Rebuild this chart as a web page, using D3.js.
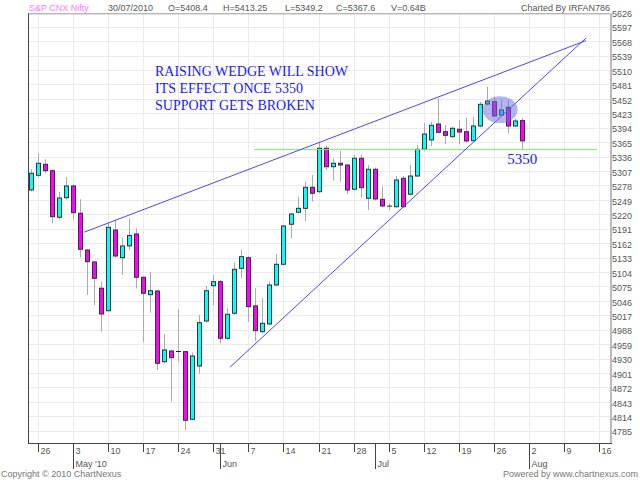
<!DOCTYPE html>
<html>
<head>
<meta charset="utf-8">
<script src="https://cdn.jsdelivr.net/npm/d3@7"></script>
<style>
  body { margin: 0; background: #fff; }
  svg text { font-family: "Liberation Sans", Arial, sans-serif; }
</style>
</head>
<body>
<div id="chart"></div>
<script>
// trading days, 23 Apr 2010 .. 30 Jul 2010
let dates = ["23 Apr","26 Apr","27 Apr","28 Apr","29 Apr","30 Apr",
  "3 May","4 May","5 May","6 May","7 May","10 May","11 May","12 May","13 May","14 May",
  "17 May","18 May","19 May","20 May","21 May","24 May","25 May","26 May","27 May","28 May",
  "31 May","1 Jun","2 Jun","3 Jun","4 Jun","7 Jun","8 Jun","9 Jun","10 Jun","11 Jun",
  "14 Jun","15 Jun","16 Jun","17 Jun","18 Jun","21 Jun","22 Jun","23 Jun","24 Jun","25 Jun",
  "28 Jun","29 Jun","30 Jun","1 Jul","2 Jul","5 Jul","6 Jul","7 Jul","8 Jul","9 Jul",
  "12 Jul","13 Jul","14 Jul","15 Jul","16 Jul","19 Jul","20 Jul","21 Jul","22 Jul","23 Jul",
  "26 Jul","27 Jul","28 Jul","29 Jul","30 Jul"];

let open = [5269,5298.4,5320.5,5307.7,5214,5253.4,
  5277,5222.1,5148.3,5124.2,5071.4,5026.3,5188.5,5132.8,5156.5,5180.5,
  5093.5,5058.5,5065.9,4923.8,4945.3,4944.3,4944,4808.1,4915.2,5005.6,
  5076.6,5084.6,4970.9,5021.1,5111.5,5132.8,5036,4984.1,4999.6,5078,
  5119.6,5200,5224.1,5232,5274.3,5265.5,5352.7,5315.7,5322.6,5319.1,
  5270.3,5332.6,5252.2,5310.5,5250.2,5236.5,5235.3,5292.4,5260.3,5297,
  5350.7,5369.4,5401.5,5386.1,5376,5390.9,5386.1,5368,5397.5,5441.7,
  5446.3,5419.6,5435.1,5397.5,5408.4];

let high = [5310.5,5342.6,5330.6,5310,5264.9,5294.4,
  5280,5250.2,5150,5126,5084.6,5203.2,5208.6,5173,5212,5191.9,
  5095,5104.7,5068,4979.5,4948,5029.1,4946,4941.9,5017.7,5076,
  5098.1,5088,5031.2,5122.8,5148.3,5136,5071.4,5051.3,5084.6,5139.7,
  5198.6,5223,5255.4,5285.6,5299,5366,5358,5332.6,5347.3,5321,
  5339.2,5339.2,5319.1,5314,5275.5,5242.2,5297,5297,5319.1,5359.3,
  5402.9,5406.1,5453.2,5399.5,5396,5409.6,5414.2,5416.2,5446.3,5476.5,
  5456.4,5449.8,5449.8,5413,5413.25];

let low = [5266,5295,5302.5,5202,5210,5250,
  5210,5133.6,5057.9,5037.8,4984.1,5025,5133,5098.1,5148.3,5071.4,
  4964,5022.3,4907.2,4920,4843.5,4923.8,4786.6,4806,4899.1,5002,
  5037.8,4960.8,4968,5018,5091.4,5004.2,4966,4982,4997,5076,
  5117,5171.8,5222,5206.6,5245.4,5262,5309.1,5287.6,5285.6,5260.9,
  5268,5254.2,5228.7,5247.4,5234,5228.7,5233,5233,5258,5295,
  5348,5357.3,5382,5361.3,5374,5361.3,5364,5366,5395,5439,
  5415,5417,5382.8,5395,5349.2];

let close = [5302.5,5322.6,5307.7,5215.2,5252.8,5276.9,
  5223.3,5149.7,5124.8,5091.4,5019.7,5193.9,5136.3,5156.4,5177.5,5093.5,
  5061.3,5066.5,4920.6,4947.4,4931.9,4943.8,4806.1,4935.3,5002.2,5066.5,
  5084.6,4970.9,5019.1,5109.5,5134.9,5034.4,4986.1,5001,5078,5119.6,
  5196.5,5220.7,5232.1,5274.3,5262.3,5352.7,5315.7,5322.6,5319.1,5268.9,
  5332.6,5273.5,5310.5,5250.8,5236.7,5235.9,5289,5235.3,5297,5350.7,
  5381.4,5398.9,5384.8,5378.8,5392.9,5385.4,5367.4,5397.5,5441.1,5447.7,
  5417.6,5429.7,5397.5,5407.6,5367.6];

// axis ticks
let yTicks = [5626,5597,5568,5539,5510,5481,5452,5423,5394,5365,5336,5307,5278,5249,5220,
  5191,5162,5133,5104,5075,5046,5017,4988,4959,4930,4901,4872,4843,4814,4785];
let weekIdx = [1,6,11,16,21,26,31,36,41,46,51,56,61,66,71,76,81];
let weekLabels = ["26","3","10","17","24","31","7","14","21","28","5","12","19","26","2","9","16"];
let monthIdx = [6,27,49,71];
let monthLabels = ["May '10","Jun","Jul","Aug"];

// drawn annotations (day index, price)
let wedgeUpper = [[7.6,5184],[79.06,5569]];
let wedgeLower = [[28.4,4913],[79.06,5574]];
let supportLine = [[31.8,5350],[80.7,5350]];
let supportLevel = 5350;
let circleAt = [66.85,5430];
let noteLines = ["RAISING WEDGE WILL SHOW","ITS EFFECT ONCE 5350","SUPPORT GETS BROKEN"];

let width = 640, height = 480;
let plot = {left: 28, right: 610, top: 13.3, bottom: 443};

let svg = d3.select("#chart").append("svg")
  .attr("width", width).attr("height", height);

let x = d3.scaleLinear().domain([-0.385, 82.5]).range([plot.left, plot.right]);
let y = d3.scaleLinear().domain([4760.4, 5624]).range([plot.bottom, plot.top]);

// grid
let grid = svg.append("g");
grid.selectAll("line.h").data(yTicks.filter(d => y(d) > plot.top)).enter().append("line")
  .attr("x1", plot.left).attr("x2", plot.right)
  .attr("y1", d => Math.round(y(d)) + 0.5).attr("y2", d => Math.round(y(d)) + 0.5)
  .attr("stroke", "#ebebeb");
grid.selectAll("line.v").data(weekIdx).enter().append("line")
  .attr("x1", d => Math.round(x(d)) + 0.5).attr("x2", d => Math.round(x(d)) + 0.5)
  .attr("y1", plot.top).attr("y2", plot.bottom)
  .attr("stroke", "#ebebeb");

// frame
svg.append("line").attr("x1", plot.left).attr("x2", plot.right)
  .attr("y1", plot.top + 0.5).attr("y2", plot.top + 0.5).attr("stroke", "#999");
svg.append("line").attr("x1", plot.right + 1).attr("x2", plot.right + 1)
  .attr("y1", plot.top).attr("y2", plot.bottom + 1).attr("stroke", "#bbb").attr("stroke-width", 2);
svg.append("line").attr("x1", plot.left + 0.5).attr("x2", plot.left + 0.5)
  .attr("y1", plot.top).attr("y2", plot.bottom).attr("stroke", "#444");
svg.append("line").attr("x1", plot.left).attr("x2", plot.right + 2)
  .attr("y1", plot.bottom + 0.5).attr("y2", plot.bottom + 0.5).attr("stroke", "#444");

// y labels
svg.append("g").selectAll("text").data(yTicks).enter().append("text")
  .attr("x", plot.right + 2)
  .attr("y", d => y(d) + 1.7)
  .attr("dominant-baseline", "central")
  .attr("font-size", 9).attr("fill", "#555")
  .text(d => d);

// x ticks and labels
let xAxis = svg.append("g");
xAxis.selectAll("line").data(weekIdx).enter().append("line")
  .attr("x1", d => Math.round(x(d)) + 0.5).attr("x2", d => Math.round(x(d)) + 0.5)
  .attr("y1", plot.bottom).attr("y2", plot.bottom + 9)
  .attr("stroke", "#444");
xAxis.selectAll("text").data(weekIdx).enter().append("text")
  .attr("x", d => Math.round(x(d)) + 2.5).attr("y", plot.bottom + 10.5)
  .attr("font-size", 9).attr("fill", "#555")
  .text((d, i) => weekLabels[i]);

let months = svg.append("g");
months.selectAll("line").data(monthIdx).enter().append("line")
  .attr("x1", d => Math.round(x(d)) + 0.5).attr("x2", d => Math.round(x(d)) + 0.5)
  .attr("y1", plot.bottom).attr("y2", plot.bottom + 26)
  .attr("stroke", "#444");
months.selectAll("text").data(monthIdx).enter().append("text")
  .attr("x", d => Math.round(x(d)) + 2.5).attr("y", plot.bottom + 23.5)
  .attr("font-size", 9).attr("fill", "#555")
  .text((d, i) => monthLabels[i]);

// candles
let candles = svg.append("g").selectAll("g").data(dates).enter().append("g");
candles.append("line")
  .attr("x1", (d, i) => Math.round(x(i)) + 0.5).attr("x2", (d, i) => Math.round(x(i)) + 0.5)
  .attr("y1", (d, i) => y(high[i])).attr("y2", (d, i) => y(low[i]))
  .attr("stroke", "#aaa");
candles.each(function(d, i) {
  let g = d3.select(this);
  let cx = Math.round(x(i)) + 0.5;
  let top = y(Math.max(open[i], close[i])), bot = y(Math.min(open[i], close[i]));
  if (bot - top < 1) {
    g.append("line").attr("x1", cx - 2.5).attr("x2", cx + 2.5)
      .attr("y1", top).attr("y2", top).attr("stroke", "#222");
  } else {
    g.append("rect")
      .attr("x", cx - 2).attr("width", 4)
      .attr("y", top).attr("height", bot - top)
      .attr("fill", close[i] >= open[i] ? "#00ffff" : "#ff00ff")
      .attr("stroke", "#333").attr("stroke-width", 1);
  }
});

// annotations
let line = d3.line().x(d => x(d[0])).y(d => y(d[1]));
svg.append("path").attr("d", line(supportLine))
  .attr("stroke", "#77ee66").attr("stroke-width", 1).attr("fill", "none");
[wedgeUpper, wedgeLower].forEach(function(w) {
  svg.append("path").attr("d", line(w))
    .attr("stroke", "#4848ff").attr("stroke-width", 1).attr("fill", "none");
});
svg.append("ellipse")
  .attr("cx", x(circleAt[0])).attr("cy", y(circleAt[1]))
  .attr("rx", 17.5).attr("ry", 13.5)
  .attr("fill", "#6a6ae0").attr("fill-opacity", 0.5);

svg.append("g").selectAll("text").data(noteLines).enter().append("text")
  .attr("x", 155).attr("y", (d, i) => 76 + i * 17)
  .style("font-family", "'Liberation Serif', 'Times New Roman', serif")
  .attr("font-size", 14).attr("fill", "#1a1aff")
  .text(d => d);
svg.append("text")
  .attr("x", x(70)).attr("y", y(supportLevel) + 14)
  .attr("text-anchor", "middle")
  .style("font-family", "'Liberation Serif', 'Times New Roman', serif")
  .attr("font-size", 15).attr("fill", "#1a1aff")
  .text(supportLevel);

// header
let last = dates.length - 1;
let header = [
  {x: 29, t: "S&P CNX Nifty", c: "#ff77ff"},
  {x: 108, t: "30/07/2010", c: "#555"},
  {x: 168, t: "O=" + open[last], c: "#555"},
  {x: 223, t: "H=" + high[last], c: "#555"},
  {x: 285, t: "L=" + low[last], c: "#555"},
  {x: 336, t: "C=" + close[last], c: "#555"},
  {x: 391, t: "V=0.64B", c: "#555"}
];
svg.append("g").selectAll("text").data(header).enter().append("text")
  .attr("x", d => d.x).attr("y", 11)
  .attr("font-size", 9).attr("fill", d => d.c)
  .text(d => d.t);
svg.append("text").attr("x", 610).attr("y", 11).attr("text-anchor", "end")
  .attr("font-size", 9).attr("fill", "#555").text("Charted By IRFAN786");

// footer
svg.append("text").attr("x", 1).attr("y", 477)
  .attr("font-size", 9).attr("fill", "#777").text("Copyright \u00a9 2010 ChartNexus");
svg.append("text").attr("x", 638).attr("y", 477).attr("text-anchor", "end")
  .attr("font-size", 9).attr("fill", "#777").text("Powered by www.chartnexus.com");
</script>
</body>
</html>
